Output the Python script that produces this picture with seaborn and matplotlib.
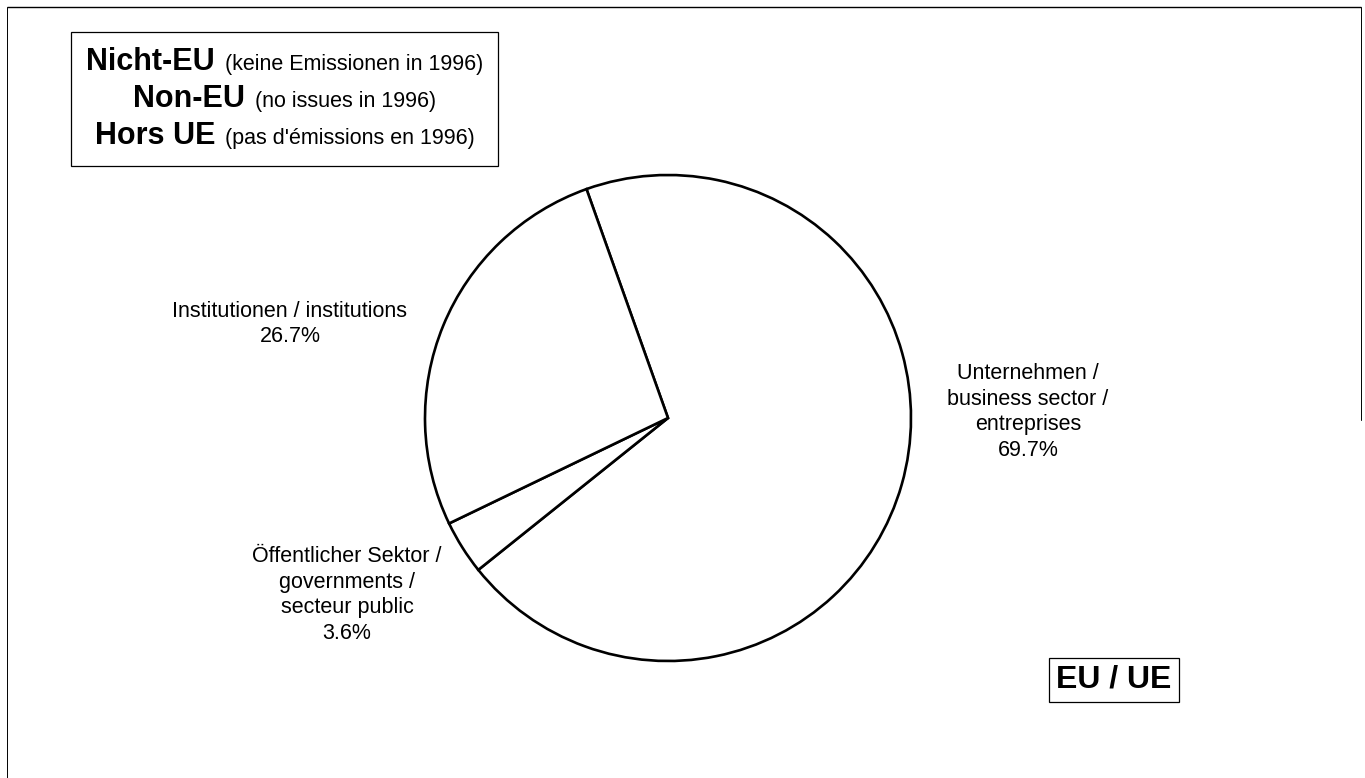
import matplotlib
matplotlib.use("Agg")
import matplotlib.pyplot as plt
import seaborn as sns
from matplotlib.offsetbox import TextArea, HPacker, VPacker, AnchoredOffsetbox

# ---------------- data ----------------
sectors = ["Unternehmen /\nbusiness sector /\nentreprises",
           "Öffentlicher Sektor /\ngovernments /\nsecteur public",
           "Institutionen / institutions"]
shares = [69.7, 3.6, 26.7]

legend_bold = ["Nicht-EU", "Non-EU", "Hors UE"]
legend_note = ["(keine Emissionen in 1996)", "(no issues in 1996)", "(pas d'émissions en 1996)"]
region_label = "EU / UE"

# ---------------- style ----------------
sns.set_theme(style="white")
plt.rcParams["font.family"] = ["Liberation Sans", "DejaVu Sans"]

W, H = 1365, 778
fig = plt.figure(figsize=(W / 100, H / 100), dpi=100)
fig.patch.set_facecolor("white")
ax = fig.add_axes([0, 0, 1, 1])

def Y(y_top):
    return H - y_top

center = (668, Y(418))
radius = 243
ax.pie(shares, startangle=109.6, counterclock=False, center=center, radius=radius,
       colors=["white"] * len(shares),
       wedgeprops=dict(edgecolor="black", linewidth=1.9))
ax.set_aspect("auto")
ax.set_xlim(0, W)
ax.set_ylim(0, H)
ax.axis("off")

# slice labels
label_pos = [(1028, 412), (347, 595), (290, 324)]
for name, val, (lx, ly) in zip(sectors, shares, label_pos):
    ax.text(lx, Y(ly), f"{name}\n{val:.1f}%", ha="center", va="center",
            fontsize=15.5, linespacing=1.3, color="black")

# legend box (mixed fonts, centred lines)
rows = []
for b, s in zip(legend_bold, legend_note):
    rows.append(HPacker(children=[TextArea(b, textprops=dict(fontsize=22, fontweight="bold", color="black")),
                                  TextArea(s, textprops=dict(fontsize=15.5, color="black"))],
                        align="baseline", pad=0, sep=7))
vp = VPacker(children=rows, align="center", pad=0, sep=5)
ab = AnchoredOffsetbox(loc="upper left", child=vp, pad=1.1, borderpad=0, frameon=True,
                       prop=dict(size=10),
                       bbox_to_anchor=(71 / W, 1 - 32 / H), bbox_transform=fig.transFigure)
ab.patch.set_edgecolor("black")
ab.patch.set_linewidth(0.9)
ab.patch.set_facecolor("white")
ax.add_artist(ab)

# EU / UE box
ax.text(1114, Y(680), region_label, ha="center", va="center", fontsize=23, fontweight="bold",
        color="black",
        bbox=dict(boxstyle="square,pad=0.22", facecolor="white", edgecolor="black", linewidth=0.9))

# page frame (scan border)
ax.plot([7, 1361], [Y(7), Y(7)], color="black", lw=1.0, solid_capstyle="butt")
ax.plot([7, 7], [Y(7), 0], color="black", lw=0.7)
ax.plot([1361, 1361], [Y(7), Y(420)], color="black", lw=0.7)

fig.savefig("out.png", dpi=100, facecolor="white")
